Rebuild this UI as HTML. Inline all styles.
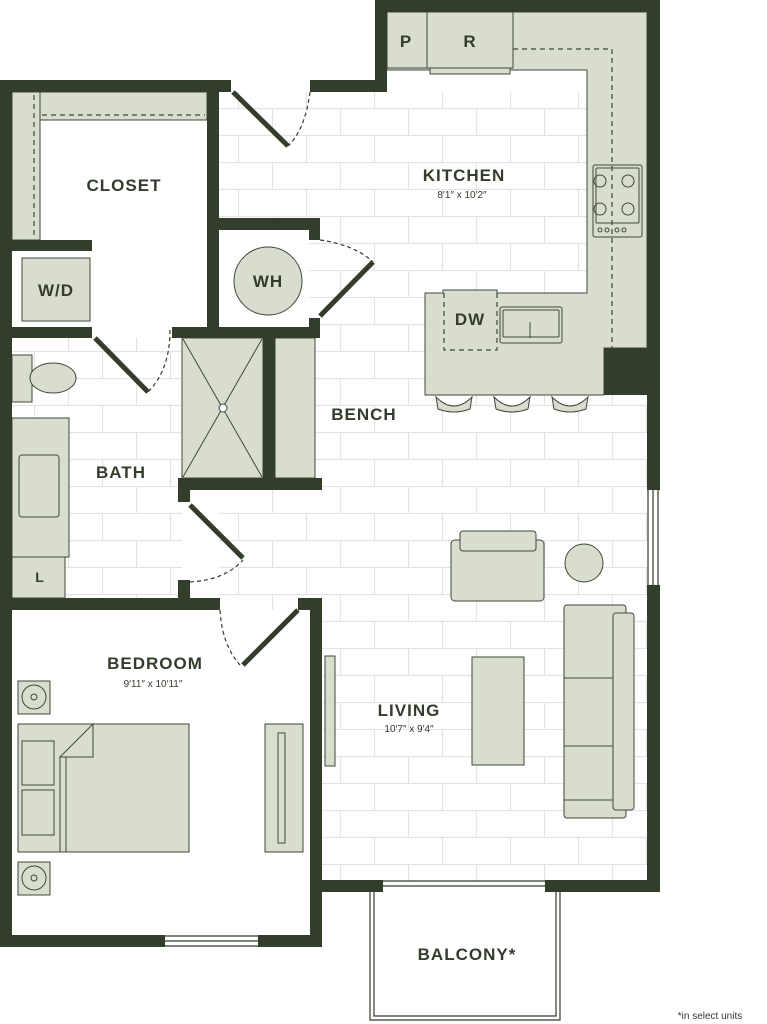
<!DOCTYPE html>
<html><head><meta charset="utf-8"><style>
html,body{margin:0;padding:0;background:#fff;}
svg{display:block;}
text{font-family:"Liberation Sans",sans-serif;fill:#323d2c;font-weight:bold;}
.s{font-weight:normal;font-size:10px;}
</style></head><body>
<svg width="767" height="1024" viewBox="0 0 767 1024" xmlns="http://www.w3.org/2000/svg">
<defs>
<pattern id="tile" x="0" y="0" width="136" height="54" patternUnits="userSpaceOnUse">
<path d="M0 0.5H136M0 27.5H136M0.5 0V27M68.5 0V27M34.5 27V54M102.5 27V54" stroke="#e3e3e3" stroke-width="1.2" fill="none"/>
</pattern>
</defs>
<g fill="url(#tile)">
<rect x="219" y="92" width="428" height="790"/>
<rect x="12" y="338" width="170" height="260"/>
</g>
<rect x="12" y="92" width="195" height="235" fill="#fff"/>
<rect x="12" y="251" width="80" height="76" fill="#fff"/>
<rect x="219" y="230" width="90" height="97" fill="#fff"/>
<rect x="12" y="610" width="298" height="323" fill="#fff"/>
<g fill="#d9ddd0" stroke="#3d4a38" stroke-width="1">
<rect x="12" y="92" width="28" height="148"/>
<rect x="40" y="92" width="167" height="28"/>
<rect x="22" y="258" width="68" height="63"/>
<circle cx="268" cy="281" r="34"/>
<path d="M387 12H513V12H647V348H604V395H425V293H443V290H497V293H587V70H513V70H387Z"/>
<rect x="387" y="12" width="40" height="56"/>
<rect x="427" y="12" width="86" height="56"/>
<rect x="430" y="68" width="80" height="6"/>
<rect x="593" y="165" width="49" height="72" rx="2"/>
<rect x="596" y="168" width="43" height="55" rx="1"/>
<rect x="500" y="307" width="62" height="36" rx="2"/>
<rect x="503" y="310" width="56" height="27" rx="1"/>
<path d="M436 397q18 18 36 0l-2 12q-16 6 -32 0z"/>
<path d="M494 397q18 18 36 0l-2 12q-16 6 -32 0z"/>
<path d="M552 397q18 18 36 0l-2 12q-16 6 -32 0z"/>
<rect x="182" y="338" width="81" height="140"/>
<rect x="275" y="338" width="40" height="140"/>
<rect x="12" y="355" width="20" height="47"/>
<ellipse cx="53" cy="378" rx="23" ry="15"/>
<rect x="12" y="418" width="57" height="139"/>
<rect x="19" y="455" width="40" height="62" rx="3"/>
<rect x="12" y="557" width="53" height="41"/>
<rect x="18" y="681" width="32" height="33"/>
<circle cx="34" cy="697" r="12"/>
<rect x="18" y="862" width="32" height="33"/>
<circle cx="34" cy="878" r="12"/>
<rect x="18" y="724" width="171" height="128"/>
<rect x="22" y="741" width="32" height="44"/>
<rect x="22" y="790" width="32" height="45"/>
<rect x="60" y="757" width="6" height="95"/>
<path d="M60 757L93 724V757Z"/>
<rect x="265" y="724" width="38" height="128"/>
<rect x="278" y="733" width="7" height="110"/>
<rect x="325" y="656" width="10" height="110"/>
<rect x="451" y="540" width="93" height="61" rx="4"/>
<rect x="460" y="531" width="76" height="20" rx="3"/>
<circle cx="584" cy="563" r="19"/>
<rect x="472" y="657" width="52" height="108"/>
<rect x="564" y="605" width="62" height="213" rx="3"/>
<rect x="613" y="613" width="21" height="197" rx="3"/>
</g>
<g stroke="#3d4a38" stroke-width="1" fill="none">
<path d="M183 339L262 477M262 339L183 477"/>
<circle cx="223" cy="408" r="4" fill="#fff"/>
<circle cx="600" cy="181" r="6"/><circle cx="628" cy="181" r="6"/>
<circle cx="600" cy="209" r="6"/><circle cx="628" cy="209" r="6"/>
<circle cx="600" cy="230" r="2"/><circle cx="607" cy="230" r="2"/><circle cx="617" cy="230" r="2"/><circle cx="624" cy="230" r="2"/>
<path d="M530 322V338"/>
<path d="M564 678H613M564 746H613M564 800H613"/>
<circle cx="34" cy="697" r="3"/><circle cx="34" cy="878" r="3"/>
</g>
<g stroke="#3d4a38" stroke-width="1.2" fill="none" stroke-dasharray="5,4">
<path d="M34 95V238M42 115H205"/>
<path d="M513 49H612V348"/>
<path d="M444 293V350H497V293"/>
</g>
<g stroke="#323d2c" stroke-width="1.2" fill="none" stroke-dasharray="4,3">
<path d="M310 92Q305 130 288 146"/>
<path d="M320 240Q355 245 373 262"/>
<path d="M170 330Q170 370 148 392"/>
<path d="M190 582Q225 580 243 560"/>
<path d="M220 610Q222 645 240 665"/>
</g>
<g stroke="#323d2c" stroke-width="5" fill="none">
<path d="M233 92L288 146"/>
<path d="M320 316L373 262"/>
<path d="M95 338L148 392"/>
<path d="M190 505L243 558"/>
<path d="M298 610L243 665"/>
</g>
<g fill="#323d2c">
<rect x="375" y="0" width="285" height="12"/>
<rect x="647" y="0" width="13" height="490"/>
<rect x="647" y="585" width="13" height="307"/>
<rect x="375" y="0" width="12" height="92"/>
<rect x="310" y="80" width="77" height="12"/>
<rect x="0" y="80" width="231" height="12"/>
<rect x="0" y="80" width="12" height="867"/>
<rect x="207" y="92" width="12" height="246"/>
<rect x="219" y="218" width="101" height="12"/>
<rect x="309" y="218" width="11" height="22"/>
<rect x="12" y="240" width="80" height="11"/>
<rect x="12" y="327" width="80" height="11"/>
<rect x="172" y="327" width="148" height="11"/>
<rect x="309" y="318" width="11" height="20"/>
<rect x="263" y="338" width="12" height="140"/>
<rect x="178" y="478" width="144" height="12"/>
<rect x="178" y="478" width="12" height="24"/>
<rect x="178" y="580" width="12" height="30"/>
<rect x="0" y="598" width="220" height="12"/>
<rect x="298" y="598" width="24" height="12"/>
<rect x="310" y="598" width="12" height="349"/>
<rect x="0" y="935" width="165" height="12"/>
<rect x="258" y="935" width="64" height="12"/>
<rect x="315" y="880" width="68" height="12"/>
<rect x="545" y="880" width="115" height="12"/>
<rect x="604" y="348" width="43" height="47"/>
</g>
<g stroke="#323d2c" stroke-width="1.2" fill="none">
<path d="M165 936H258M165 941H258M165 946H258"/>
<path d="M383 881H545M383 886H545"/>
<path d="M648 490V585M653 490V585M658 490V585"/>
<path d="M370 890V1020H560V890M374 892V1016H556V892"/>
</g>
<g font-size="17" text-anchor="middle" letter-spacing="1">
<text x="124" y="191">CLOSET</text>
<text x="56" y="296">W/D</text>
<text x="268" y="287">WH</text>
<text x="406" y="47">P</text>
<text x="470" y="47">R</text>
<text x="464" y="181">KITCHEN</text>
<text x="470" y="325">DW</text>
<text x="364" y="420">BENCH</text>
<text x="121" y="478">BATH</text>
<text x="40" y="582" font-size="14">L</text>
<text x="155" y="669">BEDROOM</text>
<text x="409" y="716">LIVING</text>
<text x="467" y="960">BALCONY*</text>
</g>
<g text-anchor="middle">
<text class="s" x="462" y="198">8′1″ x 10′2″</text>
<text class="s" x="153" y="687">9′11″ x 10′11″</text>
<text class="s" x="409" y="732">10′7″ x 9′4″</text>
<text class="s" x="710" y="1019" font-size="12">*in select units</text>
</g>
</svg>
</body></html>
